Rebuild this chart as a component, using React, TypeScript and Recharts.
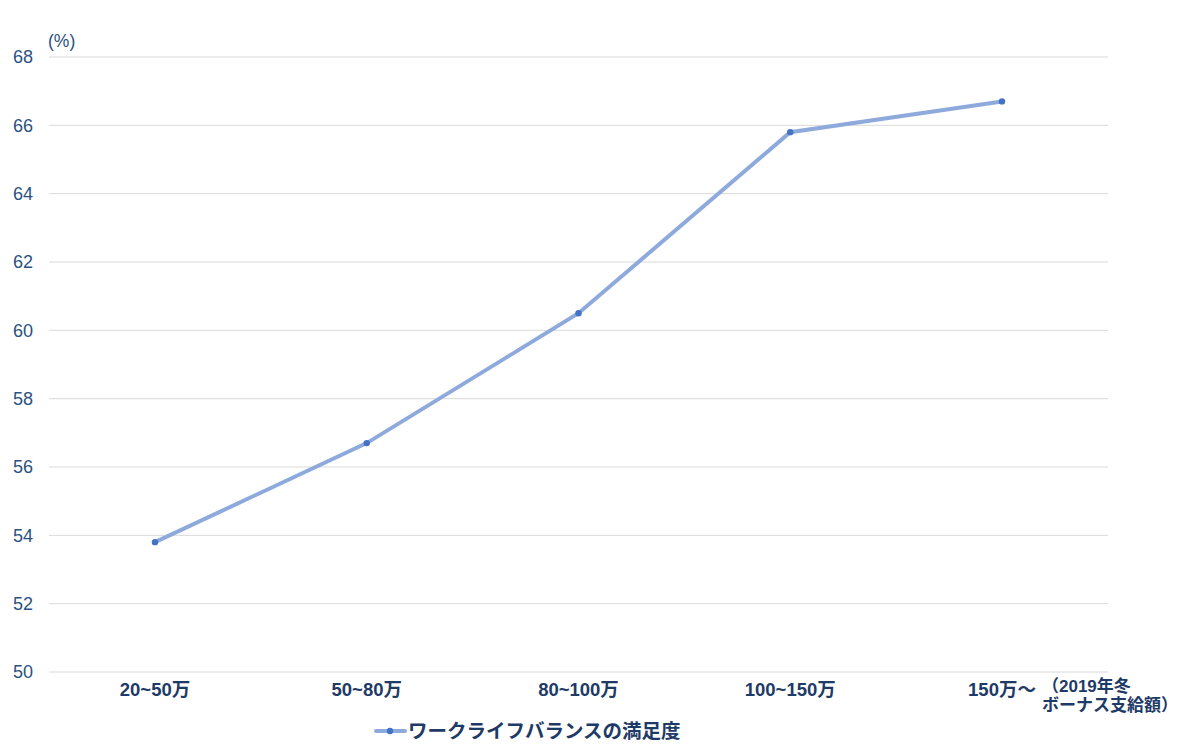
import React from 'react';
import { LineChart, Line, XAxis, YAxis, CartesianGrid, Legend } from 'recharts';

const categories = ['20~50万', '50~80万', '80~100万', '100~150万', '150万～'];
const satisfaction = [53.8, 56.7, 60.5, 65.8, 66.7];
const yTicks = [50, 52, 54, 56, 58, 60, 62, 64, 66, 68];
const seriesName = 'ワークライフバランスの満足度';
const yUnit = '(%)';
const xUnitLines = ['（2019年冬', 'ボーナス支給額）'];

const data = categories.map((c, i) => ({ category: c, value: satisfaction[i] }));

const FONT = '"Liberation Sans", "Noto Sans CJK JP", sans-serif';
const LINE_COLOR = '#8eaadd';
const DOT_COLOR = '#4472c4';
const NAVY = '#1e3a66';
const YBLUE = '#2b5281';

const LegendContent = () => (
  <div style={{ display: 'flex', alignItems: 'center', justifyContent: 'flex-start', paddingLeft: 374, fontFamily: FONT }}>
    <svg width={33} height={12} style={{ marginRight: 1 }}>
      <line x1={2} y1={6} x2={31} y2={6} stroke={LINE_COLOR} strokeWidth={4} strokeLinecap="round" />
      <circle cx={16} cy={6} r={3.2} fill={DOT_COLOR} />
    </svg>
    <span style={{ color: NAVY, fontSize: 19.5, fontWeight: 700, lineHeight: '24px' }}>{seriesName}</span>
  </div>
);

export default function App() {
  return (
    <div style={{ position: 'absolute', left: 0, top: 0, width: 1187, height: 754, background: '#fff' }}>
      <LineChart width={1187} height={754} data={data} margin={{ top: 57, right: 79, left: 0, bottom: 8 }}>
        <CartesianGrid vertical={false} stroke="#d9d9d9" strokeWidth={1} />
        <XAxis
          dataKey="category"
          axisLine={false}
          tickLine={false}
          height={50}
          tickMargin={5}
          interval={0}
          padding={{ left: 106, right: 106 }}
          tick={{ fill: NAVY, fontSize: 18.5, fontFamily: FONT, fontWeight: 600 }}
          label={(props: any) => {
            const vb = props.viewBox || {};
            const x0 = (vb.x ?? 0) + (vb.width ?? 0);
            const y0 = vb.y ?? 672;
            return (
              <text fill={NAVY} fontSize={17} fontFamily={FONT} fontWeight={600}>
                <tspan x={x0 - 66} y={y0 + 20}>{xUnitLines[0]}</tspan>
                <tspan x={x0 - 66} y={y0 + 39}>{xUnitLines[1]}</tspan>
              </text>
            );
          }}
        />
        <YAxis
          domain={[50, 68]}
          ticks={yTicks}
          width={49}
          axisLine={false}
          tickLine={false}
          tickMargin={10}
          tick={{ fill: YBLUE, fontSize: 18, fontFamily: FONT }}
          label={(props: any) => {
            const vb = props.viewBox || {};
            return (
              <text x={(vb.x ?? 0) + 48} y={(vb.y ?? 57) - 10} fill={YBLUE} fontSize={17.5} fontFamily={FONT}>
                {yUnit}
              </text>
            );
          }}
        />
        <Legend
          verticalAlign="bottom"
          content={<LegendContent />}
          wrapperStyle={{ left: 0, width: 1187, bottom: 11, height: 24 }}
        />
        <Line
          type="linear"
          dataKey="value"
          name={seriesName}
          stroke={LINE_COLOR}
          strokeWidth={4}
          dot={{ r: 3.2, fill: DOT_COLOR, stroke: DOT_COLOR, strokeWidth: 0 }}
          activeDot={false}
          isAnimationActive={false}
        />
      </LineChart>
    </div>
  );
}
